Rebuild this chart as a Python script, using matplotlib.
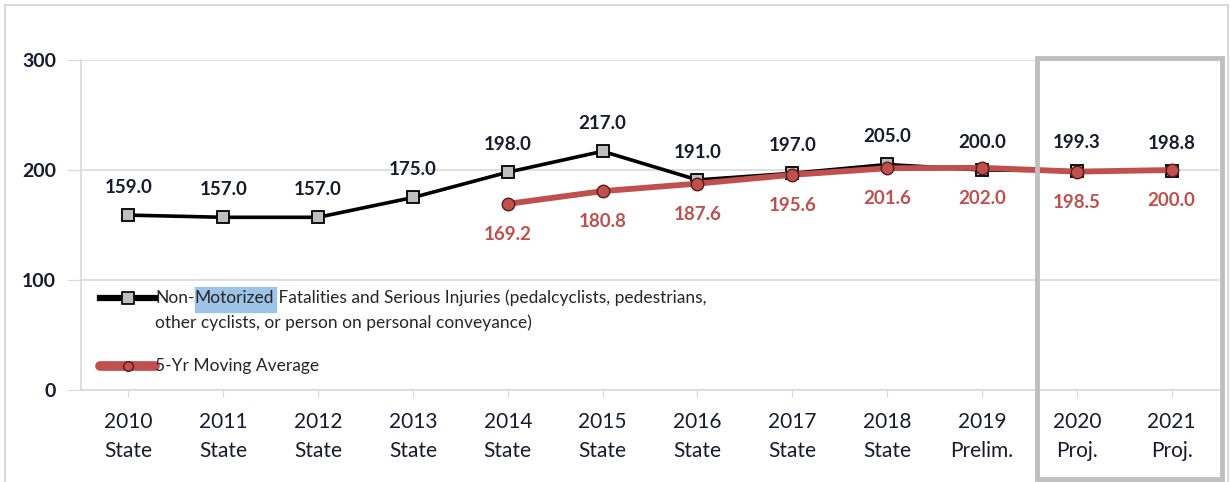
import matplotlib
matplotlib.use("Agg")
import matplotlib.pyplot as plt
from matplotlib.patches import Rectangle
from matplotlib.lines import Line2D

# data
years = ["2010", "2011", "2012", "2013", "2014", "2015",
         "2016", "2017", "2018", "2019", "2020", "2021"]
kinds = ["State"] * 9 + ["Prelim.", "Proj.", "Proj."]
nonmotorized = [159.0, 157.0, 157.0, 175.0, 198.0, 217.0,
                191.0, 197.0, 205.0, 200.0, 199.3, 198.8]
avg_years = years[4:]
moving_avg = [169.2, 180.8, 187.6, 195.6, 201.6, 202.0, 198.5, 200.0]

label1a = "Non-"
label1b = "Motorized"
label1c = " Fatalities and Serious Injuries (pedalcyclists, pedestrians,"
label1d = "other cyclists, or person on personal conveyance)"
label2 = "5-Yr Moving Average"

black = "#000000"
red = "#C0504D"
grid = "#d9d9d9"
navy = "#1a1a2e"

plt.rcParams['font.family'] = ['Lato', 'DejaVu Sans']

W, H = 1231, 482
fig = plt.figure(figsize=(W / 100, H / 100), dpi=100)
# plot area in pixels: left 81, right 1219, top 60 (=300), bottom 390 (=0)
ax = fig.add_axes([81 / W, (H - 390) / H, (1219 - 81) / W, 330 / H])

x1 = list(range(len(years)))
x2 = list(range(4, len(years)))

ax.plot(x1, nonmotorized, color=black, lw=2.6, marker="s", ms=9,
        mfc="#bfbfbf", mec=black, mew=1.3, zorder=3)
ax.plot(x2, moving_avg, color=red, lw=4.2, marker="o", ms=9,
        mfc=red, mec="#5a1a18", mew=1.0, zorder=4)

for x, v in zip(x1, nonmotorized):
    ax.annotate(f"{v:.1f}", (x, v), xytext=(0, 20), textcoords="offset points",
                ha="center", va="center", fontsize=13.5, fontweight="bold", color=navy)
for x, v in zip(x2, moving_avg):
    ax.annotate(f"{v:.1f}", (x, v), xytext=(0, -22), textcoords="offset points",
                ha="center", va="center", fontsize=13.5, fontweight="bold", color=red)

ax.set_xlim(-0.5, len(years) - 0.5)
ax.set_ylim(0, 300)
ax.set_yticks([0, 100, 200, 300])
ax.set_yticklabels(["0", "100", "200", "300"], fontsize=14, fontweight="bold", color=navy)
ax.set_xticks(x1)
ax.set_xticklabels([f"{y}\n{k}" for y, k in zip(years, kinds)],
                   fontsize=15, color=navy, linespacing=1.55)
ax.tick_params(axis="y", length=10, color=grid, pad=8)
ax.tick_params(axis="x", length=5, color=grid, pad=11)
ax.grid(axis="y", color=grid, lw=1.2)
ax.set_axisbelow(True)
for s in ["top", "right"]:
    ax.spines[s].set_visible(False)
ax.spines["left"].set_color(grid)
ax.spines["bottom"].set_color(grid)
ax.spines["left"].set_linewidth(1.2)
ax.spines["bottom"].set_linewidth(1.2)


def axpos(px, py):
    return (px - 81) / 1138, (390 - py) / 330


# manual legend
(hx0, hy1), (hx1, _) = axpos(100, 298), axpos(155, 298)
hy2 = axpos(0, 366)[1]
ax.add_line(Line2D([hx0, hx1], [hy1, hy1], transform=ax.transAxes, color=black, lw=4.5, zorder=5))
ax.add_line(Line2D([(hx0 + hx1) / 2], [hy1], transform=ax.transAxes, marker="s", ms=8,
                   mfc="#bfbfbf", mec=black, mew=1.2, zorder=6))
ax.add_line(Line2D([hx0, hx1], [hy2, hy2], transform=ax.transAxes, color=red, lw=7,
                   solid_capstyle="round", zorder=5))
ax.add_line(Line2D([(hx0 + hx1) / 2], [hy2], transform=ax.transAxes, marker="o", ms=7,
                   mfc=red, mec="#5a1a18", mew=1.0, zorder=6))

legend_font = dict(fontsize=12.5, color="#262626", transform=ax.transAxes, zorder=6)
fig.canvas.draw()
r = fig.canvas.get_renderer()
t = ax.text(hx1, hy1, label1a, ha="left", va="center", **legend_font)
bb = t.get_window_extent(r)
t2 = ax.text(0, hy1, label1b, ha="left", va="center", **legend_font)
t2.set_x(ax.transAxes.inverted().transform((bb.x1, 0))[0])
bb2 = t2.get_window_extent(r)
t3 = ax.text(0, hy1, label1c, ha="left", va="center", **legend_font)
t3.set_x(ax.transAxes.inverted().transform((bb2.x1, 0))[0])
# selection highlight behind "Motorized"
ax.add_patch(Rectangle((bb2.x0, H - 312), bb2.width + 2, 25, transform=None,
                       color="#9dc3e6", zorder=2))
ax.text(hx1, axpos(0, 323)[1], label1d, ha="left", va="center", **legend_font)
ax.text(hx1, hy2, label2, ha="left", va="center", **legend_font)

# projection box
fig.patches.append(Rectangle((1037 / W, (H - 479) / H), 185 / W, 421 / H,
                             transform=fig.transFigure, fill=False,
                             ec="#bfbfbf", lw=3.5, zorder=10))
# chart border
fig.patches.append(Rectangle((5 / W, -0.05), 1223 / W, (H - 5) / H + 0.05,
                             transform=fig.transFigure, fill=False,
                             ec=grid, lw=1.5, zorder=0))

fig.savefig("out.png", dpi=100)
